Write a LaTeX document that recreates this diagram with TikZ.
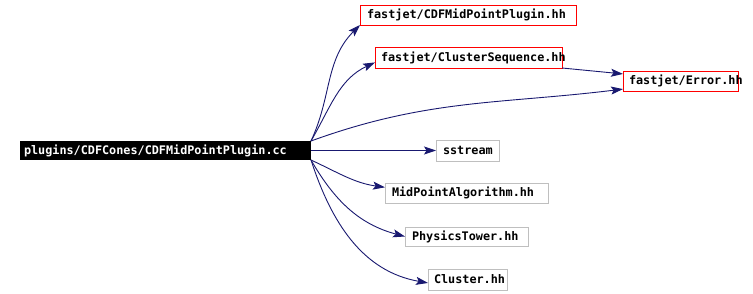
\documentclass[tikz,border=0pt]{standalone}
\usepackage{fontspec}
\newfontfamily\dotmono[HyphenChar=None]{DejaVu Sans Mono}
\usetikzlibrary{arrows.meta}
\usepackage{xcolor}
\definecolor{EdgeBlue}{HTML}{191970}
\definecolor{BoxRed}{HTML}{FF0000}
\definecolor{BoxGray}{HTML}{BFBFBF}

\begin{document}
\begin{tikzpicture}[x=1pt,y=-1pt,
    font=\fontsize{11.8}{13}\dotmono\bfseries,
    file/.style={anchor=west,outer sep=0pt,inner ysep=0pt,align=left,text width=#1},
    hdr/.style={draw=BoxRed,line width=0.9pt},
    sys/.style={draw=BoxGray,line width=0.9pt},
    dep/.style={draw=EdgeBlue,line width=0.9pt,-{Stealth[length=12pt,width=8pt,inset=2.5pt]}}]
    \useasboundingbox (0,0) rectangle (753,294);
    % source file and its includes
    \node[file=283,inner xsep=4pt,minimum height=19pt,fill=black,text=white]
      (main) at (20,150.5) {plugins/CDFCones/CDFMidPointPlugin.cc};
    \node[file=202,inner xsep=7pt,minimum height=20pt,hdr] (cdfh) at (360,15) {fastjet/CDFMidPointPlugin.hh};
    \node[file=175,inner xsep=6pt,minimum height=21pt,hdr] (cseq) at (375,57.5) {fastjet/ClusterSequence.hh};
    \node[file=103,inner xsep=6pt,minimum height=20pt,hdr] (err) at (623,81) {fastjet/Error.hh};
    \node[file=49,inner xsep=7pt,minimum height=21pt,sys] (sstr) at (436,150.5) {sstream};
    \node[file=149,inner xsep=7pt,minimum height=20pt,sys] (mpa) at (385,193) {MidPointAlgorithm.hh};
    \node[file=109,inner xsep=7pt,minimum height=19pt,sys] (phys) at (405,236.5) {PhysicsTower.hh};
    \node[file=67,inner xsep=6pt,minimum height=21pt,sys] (clus) at (428,279.5) {Cluster.hh};
    % include edges
    \draw[dep] (main.north east) to[out=65,in=225] (cdfh.south west);
    \draw[dep] (main.north east) to[out=60,in=205] (cseq.183);
    \draw[dep] (main.north east) to[out=20,in=187] (err.188);
    \draw[dep] (cseq.south east) -- (err.173);
    \draw[dep] (main.east) -- (sstr.west);
    \draw[dep] (main.south east) to[out=-25,in=172] (mpa.176);
    \draw[dep] (main.south east) to[out=-60,in=165] (phys.west);
    \draw[dep] (main.south east) to[out=-72,in=170] (clus.185);
\end{tikzpicture}
\end{document}
